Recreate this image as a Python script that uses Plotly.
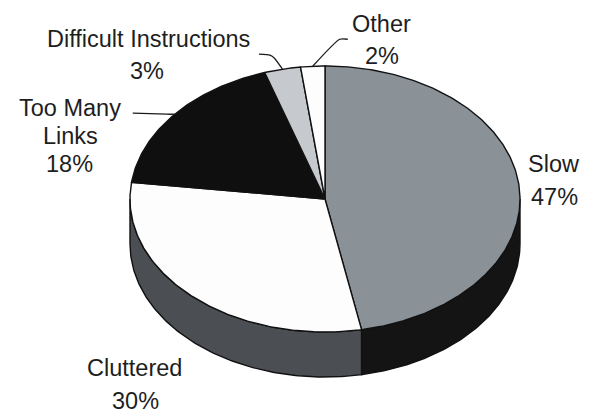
import numpy as np
import plotly.graph_objects as go

# Survey results: reasons cited for poor web pages
categories = ["Slow", "Cluttered", "Too Many Links", "Difficult Instructions", "Other"]
shares = [47, 30, 18, 3, 2]
pct_labels = ["47%", "30%", "18%", "3%", "2%"]

# Greyscale styling: top faces and front walls
top_colors = ["#8a9197", "#fdfdfd", "#0f0f0f", "#c6c9cd", "#fdfdfd"]
side_colors = ["#141414", "#4b4e52", "#0a0a0a", "#8e9196", "#b0b0b0"]

# Tilted-disc geometry (pixel units of the canvas)
W, H = 595, 414
CX, CY = 325, 199
RX, RY = 195, 133
DEPTH = 45
OUTLINE = dict(color="#111111", width=1.4)

# Label placement: each line of text as (x centre, y centre)
label_lines = {
    "Slow": [("Slow", 554, 164), ("47%", 554, 196.5)],
    "Cluttered": [("Cluttered", 134.5, 368), ("30%", 135, 400.5)],
    "Too Many Links": [("Too Many", 70, 107.5), ("Links", 70, 136), ("18%", 69.5, 164)],
    "Difficult Instructions": [("Difficult Instructions", 148.5, 38.5), ("3%", 147, 70.5)],
    "Other": [("Other", 381.5, 24), ("2%", 381.5, 56)],
}
# Leader line bends, relative to the rim point at each slice's mid-angle
leader_bends = {
    "Too Many Links": [(-42, -1), (-8, 0)],
    "Difficult Instructions": [(-23.5, -15), (-12.5, -14), (-8, -11)],
    "Other": [(35, -27), (27, -27)],
}


def rim(theta_deg, drop=0.0):
    t = np.radians(theta_deg)
    return CX + RX * np.sin(t), CY - RY * np.cos(t) + drop


total = float(sum(shares))
bounds = []
start = 0.0
for s in shares:
    span = s / total * 360.0
    bounds.append((start, start + span))
    start += span

fig = go.Figure()

# Front walls: only the part of each slice facing the viewer (90..270 deg)
for (t0, t1), col in zip(bounds, side_colors):
    lo, hi = max(t0, 90.0), min(t1, 270.0)
    if lo >= hi:
        continue
    arc = np.linspace(lo, hi, 120)
    xt, yt = rim(arc)
    xb, yb = rim(arc[::-1], DEPTH)
    xs = np.concatenate([xt, xb, xt[:1]])
    ys = np.concatenate([yt, yb, yt[:1]])
    fig.add_trace(go.Scatter(x=xs, y=ys, mode="lines", fill="toself",
                             fillcolor=col, line=OUTLINE, hoverinfo="skip"))

# Top faces
for name, (t0, t1), col in zip(categories, bounds, top_colors):
    arc = np.linspace(t0, t1, max(8, int((t1 - t0) * 1.5)))
    xt, yt = rim(arc)
    xs = np.concatenate([[CX], xt, [CX]])
    ys = np.concatenate([[CY], yt, [CY]])
    fig.add_trace(go.Scatter(x=xs, y=ys, mode="lines", fill="toself",
                             fillcolor=col, line=OUTLINE, hoverinfo="skip",
                             name=name))

# Leader lines from labels to the slice rims
for name, (t0, t1) in zip(categories, bounds):
    if name not in leader_bends:
        continue
    ax, ay = rim((t0 + t1) / 2.0)
    pts = [(ax + dx, ay + dy) for dx, dy in leader_bends[name]] + [(ax, ay)]
    fig.add_trace(go.Scatter(x=[p[0] for p in pts], y=[p[1] for p in pts],
                             mode="lines", line=dict(color="#1a1a1a", width=1.3,
                                                     shape="spline", smoothing=0.6),
                             hoverinfo="skip"))

# Category and percentage labels
for name, pct in zip(categories, pct_labels):
    for text, x, y in label_lines[name]:
        fig.add_annotation(x=x, y=y, text=text, showarrow=False,
                           xanchor="center", yanchor="middle",
                           font=dict(family="Arial, Liberation Sans, sans-serif",
                                     size=23.5, color="#1e1e1e"))

fig.update_layout(
    width=W, height=H, autosize=False,
    margin=dict(l=0, r=0, t=0, b=0, pad=0),
    paper_bgcolor="#ffffff", plot_bgcolor="#ffffff",
    showlegend=False,
    xaxis=dict(range=[0, W], visible=False, fixedrange=True),
    yaxis=dict(range=[H, 0], visible=False, fixedrange=True),
)

fig.write_html("out.html")
